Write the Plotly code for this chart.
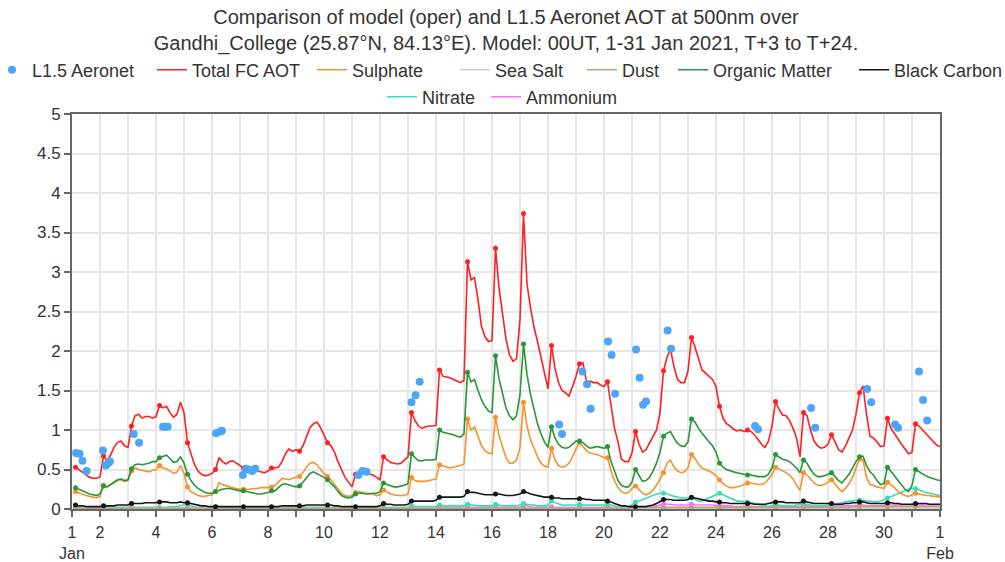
import pandas as pd
import plotly.graph_objects as go

TITLE = ("Comparison of model (oper) and L1.5 Aeronet AOT at 500nm over<br>"
         "Gandhi_College (25.87°N, 84.13°E). Model: 00UT, 1-31 Jan 2021, T+3 to T+24.")

# ---- model series: one row per forecast day, values at T+3 ... T+24 (3-hourly) ----
total_fc = [
    [0.53, 0.50, 0.46, 0.43, 0.40, 0.39, 0.39, 0.41],
    [0.67, 0.61, 0.68, 0.78, 0.84, 0.86, 0.80, 0.78],
    [1.05, 1.18, 1.20, 1.15, 1.17, 1.17, 1.15, 1.17],
    [1.31, 1.28, 1.30, 1.22, 1.16, 1.20, 1.35, 1.22],
    [0.84, 0.70, 0.56, 0.48, 0.44, 0.42, 0.43, 0.45],
    [0.50, 0.65, 0.60, 0.57, 0.60, 0.61, 0.58, 0.55],
    [0.52, 0.52, 0.51, 0.50, 0.48, 0.47, 0.46, 0.48],
    [0.52, 0.52, 0.53, 0.60, 0.70, 0.76, 0.73, 0.75],
    [0.73, 0.80, 0.92, 1.03, 1.08, 1.10, 1.03, 0.94],
    [0.84, 0.80, 0.72, 0.60, 0.50, 0.40, 0.34, 0.28],
    [0.44, 0.46, 0.46, 0.45, 0.44, 0.43, 0.40, 0.37],
    [0.66, 0.62, 0.59, 0.58, 0.57, 0.58, 0.62, 0.66],
    [1.22, 1.12, 1.05, 1.02, 1.04, 1.05, 1.05, 1.06],
    [1.76, 1.68, 1.67, 1.66, 1.64, 1.62, 1.60, 1.63],
    [3.13, 2.90, 2.93, 2.65, 2.31, 2.18, 2.12, 2.13],
    [3.30, 2.80, 2.45, 2.15, 1.95, 1.87, 1.90, 2.40],
    [3.74, 2.85, 2.55, 2.30, 2.12, 1.93, 1.70, 1.52],
    [2.07, 1.78, 1.60, 1.50, 1.47, 1.43, 1.55, 1.68],
    [1.84, 1.85, 1.61, 1.62, 1.60, 1.60, 1.57, 1.55],
    [1.61, 1.30, 1.02, 0.85, 0.63, 0.60, 0.60, 0.71],
    [0.98, 0.82, 0.72, 0.75, 0.84, 0.92, 1.00, 1.22],
    [1.75, 1.92, 2.02, 1.80, 1.64, 1.60, 1.60, 1.75],
    [2.17, 2.05, 1.90, 1.76, 1.72, 1.68, 1.64, 1.55],
    [1.30, 1.15, 1.08, 1.05, 1.01, 0.99, 1.00, 0.98],
    [1.00, 0.98, 0.94, 0.88, 0.82, 0.78, 0.86, 1.05],
    [1.36, 1.26, 1.19, 1.18, 1.12, 1.02, 0.90, 0.66],
    [1.22, 1.18, 1.00, 0.86, 0.80, 0.77, 0.78, 0.82],
    [0.94, 0.85, 0.75, 0.72, 0.80, 0.90, 1.00, 1.20],
    [1.47, 1.56, 1.20, 0.92, 0.90, 0.85, 0.79, 0.80],
    [1.15, 1.02, 0.95, 0.88, 0.82, 0.76, 0.70, 0.72],
    [1.08, 1.05, 1.00, 0.95, 0.90, 0.85, 0.81, 0.79],
]

sulphate = [
    [0.22, 0.20, 0.18, 0.17, 0.16, 0.15, 0.14, 0.16],
    [0.30, 0.28, 0.30, 0.33, 0.36, 0.37, 0.35, 0.36],
    [0.48, 0.52, 0.50, 0.49, 0.48, 0.47, 0.49, 0.50],
    [0.55, 0.52, 0.51, 0.48, 0.45, 0.47, 0.55, 0.45],
    [0.28, 0.22, 0.19, 0.17, 0.16, 0.16, 0.17, 0.18],
    [0.22, 0.33, 0.31, 0.29, 0.28, 0.27, 0.26, 0.25],
    [0.25, 0.25, 0.25, 0.26, 0.26, 0.27, 0.27, 0.27],
    [0.28, 0.30, 0.34, 0.39, 0.38, 0.37, 0.39, 0.40],
    [0.41, 0.46, 0.53, 0.58, 0.59, 0.56, 0.50, 0.45],
    [0.41, 0.37, 0.31, 0.25, 0.20, 0.17, 0.16, 0.17],
    [0.21, 0.22, 0.21, 0.20, 0.20, 0.19, 0.17, 0.18],
    [0.24, 0.21, 0.19, 0.18, 0.17, 0.17, 0.17, 0.19],
    [0.40, 0.36, 0.35, 0.35, 0.35, 0.36, 0.37, 0.38],
    [0.56, 0.54, 0.53, 0.52, 0.53, 0.54, 0.55, 0.57],
    [1.14, 1.00, 1.04, 0.92, 0.80, 0.74, 0.71, 0.70],
    [1.16, 0.93, 0.78, 0.65, 0.58, 0.58, 0.62, 0.78],
    [1.35, 1.05, 0.88, 0.76, 0.66, 0.58, 0.54, 0.53],
    [0.77, 0.62, 0.55, 0.53, 0.54, 0.58, 0.66, 0.76],
    [0.84, 0.79, 0.74, 0.71, 0.70, 0.69, 0.67, 0.65],
    [0.65, 0.48, 0.36, 0.27, 0.22, 0.20, 0.21, 0.26],
    [0.29, 0.25, 0.20, 0.18, 0.20, 0.24, 0.30, 0.38],
    [0.46, 0.58, 0.62, 0.53, 0.48, 0.46, 0.47, 0.52],
    [0.69, 0.64, 0.57, 0.52, 0.50, 0.48, 0.46, 0.42],
    [0.37, 0.32, 0.29, 0.27, 0.27, 0.28, 0.29, 0.31],
    [0.33, 0.33, 0.32, 0.31, 0.31, 0.33, 0.38, 0.44],
    [0.53, 0.51, 0.48, 0.46, 0.43, 0.38, 0.30, 0.24],
    [0.46, 0.43, 0.38, 0.33, 0.30, 0.30, 0.31, 0.34],
    [0.37, 0.32, 0.26, 0.22, 0.26, 0.32, 0.40, 0.52],
    [0.63, 0.62, 0.40, 0.31, 0.30, 0.28, 0.27, 0.26],
    [0.34, 0.31, 0.27, 0.22, 0.19, 0.17, 0.16, 0.18],
    [0.20, 0.19, 0.18, 0.17, 0.17, 0.16, 0.16, 0.15],
]

sea_salt = [
    [0.01, 0.01, 0.01, 0.01, 0.01, 0.01, 0.01, 0.01],
    [0.01, 0.01, 0.01, 0.01, 0.01, 0.01, 0.01, 0.01],
    [0.01, 0.01, 0.01, 0.01, 0.01, 0.01, 0.01, 0.01],
    [0.01, 0.01, 0.01, 0.01, 0.01, 0.01, 0.01, 0.01],
    [0.01, 0.01, 0.01, 0.01, 0.01, 0.01, 0.01, 0.01],
    [0.01, 0.01, 0.01, 0.01, 0.01, 0.01, 0.01, 0.01],
    [0.01, 0.01, 0.01, 0.01, 0.01, 0.01, 0.01, 0.01],
    [0.01, 0.01, 0.01, 0.01, 0.01, 0.01, 0.01, 0.01],
    [0.01, 0.01, 0.01, 0.01, 0.01, 0.01, 0.01, 0.01],
    [0.01, 0.01, 0.01, 0.01, 0.01, 0.01, 0.01, 0.01],
    [0.01, 0.01, 0.01, 0.01, 0.01, 0.01, 0.01, 0.01],
    [0.01, 0.01, 0.01, 0.01, 0.01, 0.01, 0.01, 0.01],
    [0.01, 0.01, 0.01, 0.01, 0.01, 0.01, 0.01, 0.01],
    [0.01, 0.01, 0.01, 0.01, 0.01, 0.01, 0.01, 0.01],
    [0.01, 0.01, 0.01, 0.01, 0.01, 0.01, 0.01, 0.01],
    [0.01, 0.01, 0.01, 0.01, 0.01, 0.01, 0.01, 0.01],
    [0.01, 0.01, 0.01, 0.01, 0.01, 0.01, 0.01, 0.01],
    [0.01, 0.01, 0.01, 0.01, 0.01, 0.01, 0.01, 0.01],
    [0.01, 0.01, 0.01, 0.01, 0.01, 0.01, 0.01, 0.01],
    [0.01, 0.01, 0.01, 0.01, 0.01, 0.01, 0.01, 0.01],
    [0.01, 0.01, 0.01, 0.01, 0.01, 0.01, 0.01, 0.01],
    [0.01, 0.01, 0.01, 0.01, 0.01, 0.01, 0.01, 0.01],
    [0.01, 0.01, 0.01, 0.01, 0.01, 0.01, 0.01, 0.01],
    [0.01, 0.01, 0.01, 0.01, 0.01, 0.01, 0.01, 0.01],
    [0.01, 0.01, 0.01, 0.01, 0.01, 0.01, 0.01, 0.01],
    [0.01, 0.01, 0.01, 0.01, 0.01, 0.01, 0.01, 0.01],
    [0.01, 0.01, 0.01, 0.01, 0.01, 0.01, 0.01, 0.01],
    [0.01, 0.01, 0.01, 0.01, 0.01, 0.01, 0.01, 0.01],
    [0.01, 0.01, 0.01, 0.01, 0.01, 0.01, 0.01, 0.01],
    [0.01, 0.01, 0.01, 0.01, 0.01, 0.01, 0.01, 0.01],
    [0.01, 0.01, 0.01, 0.01, 0.01, 0.01, 0.01, 0.01],
]

dust = [
    [0.01, 0.01, 0.01, 0.01, 0.01, 0.01, 0.01, 0.01],
    [0.01, 0.01, 0.01, 0.01, 0.01, 0.01, 0.01, 0.01],
    [0.01, 0.01, 0.01, 0.01, 0.01, 0.01, 0.01, 0.01],
    [0.01, 0.01, 0.01, 0.01, 0.01, 0.01, 0.01, 0.01],
    [0.01, 0.01, 0.01, 0.01, 0.01, 0.01, 0.01, 0.01],
    [0.01, 0.01, 0.01, 0.01, 0.01, 0.01, 0.01, 0.01],
    [0.01, 0.01, 0.01, 0.01, 0.01, 0.01, 0.01, 0.01],
    [0.01, 0.01, 0.01, 0.01, 0.01, 0.01, 0.01, 0.01],
    [0.01, 0.01, 0.01, 0.01, 0.01, 0.01, 0.01, 0.01],
    [0.01, 0.01, 0.01, 0.01, 0.01, 0.01, 0.01, 0.01],
    [0.01, 0.01, 0.01, 0.01, 0.01, 0.01, 0.01, 0.01],
    [0.01, 0.01, 0.01, 0.01, 0.01, 0.01, 0.01, 0.01],
    [0.01, 0.01, 0.01, 0.01, 0.01, 0.01, 0.01, 0.01],
    [0.01, 0.01, 0.01, 0.01, 0.01, 0.01, 0.01, 0.01],
    [0.01, 0.01, 0.01, 0.01, 0.01, 0.01, 0.01, 0.01],
    [0.01, 0.01, 0.01, 0.01, 0.01, 0.01, 0.01, 0.01],
    [0.01, 0.01, 0.01, 0.01, 0.01, 0.01, 0.01, 0.01],
    [0.01, 0.01, 0.01, 0.01, 0.01, 0.01, 0.01, 0.01],
    [0.01, 0.01, 0.01, 0.01, 0.01, 0.01, 0.01, 0.01],
    [0.01, 0.01, 0.01, 0.01, 0.01, 0.01, 0.01, 0.02],
    [0.02, 0.02, 0.02, 0.02, 0.02, 0.02, 0.02, 0.02],
    [0.02, 0.02, 0.02, 0.02, 0.02, 0.02, 0.02, 0.02],
    [0.02, 0.02, 0.02, 0.02, 0.02, 0.02, 0.02, 0.02],
    [0.02, 0.02, 0.02, 0.02, 0.02, 0.02, 0.02, 0.02],
    [0.02, 0.02, 0.02, 0.02, 0.02, 0.02, 0.02, 0.02],
    [0.02, 0.02, 0.02, 0.02, 0.02, 0.02, 0.02, 0.02],
    [0.02, 0.02, 0.02, 0.02, 0.02, 0.02, 0.02, 0.02],
    [0.02, 0.02, 0.02, 0.02, 0.02, 0.02, 0.03, 0.03],
    [0.03, 0.03, 0.03, 0.03, 0.03, 0.03, 0.03, 0.03],
    [0.03, 0.03, 0.03, 0.03, 0.03, 0.03, 0.03, 0.03],
    [0.03, 0.03, 0.03, 0.03, 0.03, 0.03, 0.03, 0.03],
]

organic_matter = [
    [0.27, 0.25, 0.22, 0.20, 0.19, 0.18, 0.17, 0.19],
    [0.29, 0.28, 0.31, 0.34, 0.37, 0.38, 0.36, 0.37],
    [0.51, 0.56, 0.57, 0.56, 0.57, 0.58, 0.60, 0.60],
    [0.65, 0.67, 0.68, 0.64, 0.59, 0.60, 0.66, 0.58],
    [0.44, 0.36, 0.30, 0.26, 0.23, 0.21, 0.20, 0.20],
    [0.22, 0.24, 0.25, 0.26, 0.26, 0.25, 0.24, 0.23],
    [0.23, 0.22, 0.21, 0.20, 0.19, 0.19, 0.20, 0.21],
    [0.23, 0.23, 0.27, 0.31, 0.32, 0.30, 0.29, 0.28],
    [0.29, 0.34, 0.40, 0.45, 0.47, 0.45, 0.42, 0.40],
    [0.37, 0.33, 0.28, 0.22, 0.17, 0.15, 0.14, 0.15],
    [0.19, 0.20, 0.20, 0.19, 0.19, 0.20, 0.20, 0.22],
    [0.33, 0.31, 0.29, 0.28, 0.28, 0.29, 0.30, 0.32],
    [0.70, 0.65, 0.61, 0.61, 0.62, 0.62, 0.62, 0.63],
    [1.00, 0.97, 0.96, 0.95, 0.94, 0.92, 0.91, 0.95],
    [1.73, 1.61, 1.64, 1.50, 1.38, 1.30, 1.24, 1.22],
    [1.94, 1.65, 1.45, 1.28, 1.18, 1.13, 1.18, 1.45],
    [2.09, 1.70, 1.45, 1.25, 1.08, 0.95, 0.85, 0.78],
    [1.04, 0.90, 0.82, 0.78, 0.77, 0.78, 0.82, 0.86],
    [0.86, 0.84, 0.80, 0.77, 0.78, 0.79, 0.78, 0.77],
    [0.79, 0.60, 0.48, 0.36, 0.30, 0.28, 0.28, 0.34],
    [0.50, 0.42, 0.35, 0.36, 0.40, 0.48, 0.58, 0.72],
    [0.92, 0.96, 0.98, 0.90, 0.83, 0.80, 0.79, 0.85],
    [1.14, 1.10, 1.02, 0.96, 0.90, 0.85, 0.80, 0.72],
    [0.58, 0.53, 0.50, 0.48, 0.47, 0.46, 0.45, 0.44],
    [0.43, 0.43, 0.42, 0.41, 0.41, 0.41, 0.44, 0.52],
    [0.69, 0.66, 0.63, 0.62, 0.60, 0.56, 0.52, 0.46],
    [0.62, 0.58, 0.50, 0.44, 0.41, 0.41, 0.42, 0.44],
    [0.46, 0.41, 0.36, 0.33, 0.38, 0.44, 0.52, 0.60],
    [0.66, 0.67, 0.55, 0.47, 0.43, 0.36, 0.31, 0.32],
    [0.53, 0.48, 0.42, 0.36, 0.30, 0.25, 0.22, 0.30],
    [0.50, 0.47, 0.44, 0.42, 0.40, 0.38, 0.37, 0.36],
]

black_carbon = [
    [0.05, 0.04, 0.04, 0.03, 0.03, 0.03, 0.03, 0.03],
    [0.04, 0.04, 0.04, 0.04, 0.05, 0.05, 0.05, 0.05],
    [0.07, 0.07, 0.07, 0.07, 0.08, 0.08, 0.08, 0.08],
    [0.09, 0.09, 0.09, 0.08, 0.08, 0.08, 0.09, 0.08],
    [0.08, 0.07, 0.06, 0.05, 0.04, 0.04, 0.03, 0.03],
    [0.03, 0.03, 0.03, 0.03, 0.03, 0.03, 0.03, 0.03],
    [0.03, 0.03, 0.03, 0.03, 0.03, 0.03, 0.03, 0.03],
    [0.03, 0.03, 0.03, 0.04, 0.04, 0.04, 0.04, 0.04],
    [0.04, 0.04, 0.05, 0.05, 0.05, 0.05, 0.05, 0.05],
    [0.05, 0.05, 0.04, 0.04, 0.03, 0.03, 0.03, 0.03],
    [0.03, 0.03, 0.03, 0.03, 0.03, 0.03, 0.03, 0.04],
    [0.07, 0.06, 0.06, 0.05, 0.05, 0.05, 0.05, 0.06],
    [0.10, 0.10, 0.10, 0.10, 0.10, 0.10, 0.10, 0.11],
    [0.15, 0.15, 0.15, 0.15, 0.15, 0.15, 0.15, 0.16],
    [0.22, 0.21, 0.21, 0.20, 0.19, 0.18, 0.18, 0.18],
    [0.19, 0.19, 0.18, 0.17, 0.17, 0.17, 0.18, 0.19],
    [0.22, 0.21, 0.19, 0.18, 0.17, 0.16, 0.15, 0.15],
    [0.15, 0.14, 0.14, 0.13, 0.13, 0.13, 0.13, 0.13],
    [0.13, 0.13, 0.12, 0.12, 0.11, 0.11, 0.11, 0.11],
    [0.10, 0.09, 0.07, 0.05, 0.04, 0.04, 0.03, 0.03],
    [0.03, 0.03, 0.03, 0.03, 0.04, 0.05, 0.07, 0.09],
    [0.12, 0.12, 0.12, 0.11, 0.11, 0.11, 0.11, 0.12],
    [0.15, 0.14, 0.13, 0.12, 0.11, 0.10, 0.10, 0.09],
    [0.09, 0.08, 0.08, 0.07, 0.07, 0.07, 0.07, 0.07],
    [0.07, 0.07, 0.06, 0.06, 0.06, 0.06, 0.07, 0.08],
    [0.09, 0.09, 0.09, 0.08, 0.08, 0.08, 0.08, 0.08],
    [0.10, 0.09, 0.08, 0.07, 0.07, 0.07, 0.07, 0.07],
    [0.07, 0.06, 0.06, 0.06, 0.07, 0.07, 0.08, 0.08],
    [0.09, 0.09, 0.08, 0.07, 0.07, 0.07, 0.07, 0.07],
    [0.08, 0.08, 0.07, 0.07, 0.06, 0.06, 0.06, 0.06],
    [0.07, 0.07, 0.07, 0.07, 0.06, 0.06, 0.06, 0.06],
]

nitrate = [
    [0.02, 0.02, 0.01, 0.01, 0.01, 0.01, 0.01, 0.01],
    [0.02, 0.02, 0.02, 0.02, 0.02, 0.02, 0.02, 0.02],
    [0.02, 0.02, 0.02, 0.02, 0.02, 0.02, 0.02, 0.02],
    [0.02, 0.02, 0.02, 0.03, 0.03, 0.03, 0.04, 0.05],
    [0.05, 0.04, 0.03, 0.02, 0.02, 0.02, 0.02, 0.02],
    [0.03, 0.03, 0.02, 0.02, 0.02, 0.02, 0.02, 0.02],
    [0.02, 0.02, 0.02, 0.02, 0.02, 0.02, 0.02, 0.02],
    [0.02, 0.02, 0.02, 0.02, 0.02, 0.02, 0.02, 0.02],
    [0.02, 0.02, 0.02, 0.02, 0.02, 0.02, 0.02, 0.02],
    [0.02, 0.02, 0.02, 0.02, 0.02, 0.02, 0.02, 0.02],
    [0.02, 0.02, 0.02, 0.02, 0.02, 0.02, 0.02, 0.02],
    [0.03, 0.02, 0.02, 0.02, 0.02, 0.02, 0.02, 0.02],
    [0.04, 0.03, 0.03, 0.03, 0.03, 0.03, 0.03, 0.03],
    [0.05, 0.04, 0.04, 0.04, 0.04, 0.04, 0.04, 0.04],
    [0.06, 0.05, 0.05, 0.04, 0.04, 0.04, 0.04, 0.04],
    [0.06, 0.05, 0.04, 0.04, 0.04, 0.04, 0.04, 0.05],
    [0.07, 0.06, 0.05, 0.05, 0.04, 0.04, 0.04, 0.05],
    [0.10, 0.08, 0.06, 0.05, 0.05, 0.05, 0.05, 0.05],
    [0.06, 0.05, 0.05, 0.05, 0.05, 0.05, 0.05, 0.05],
    [0.06, 0.05, 0.04, 0.03, 0.02, 0.02, 0.03, 0.05],
    [0.09, 0.10, 0.12, 0.14, 0.15, 0.17, 0.19, 0.20],
    [0.20, 0.19, 0.17, 0.16, 0.15, 0.14, 0.14, 0.14],
    [0.14, 0.12, 0.10, 0.10, 0.12, 0.14, 0.16, 0.18],
    [0.20, 0.18, 0.16, 0.14, 0.12, 0.10, 0.10, 0.09],
    [0.09, 0.08, 0.07, 0.06, 0.05, 0.04, 0.03, 0.04],
    [0.05, 0.05, 0.04, 0.04, 0.04, 0.04, 0.05, 0.06],
    [0.07, 0.06, 0.05, 0.04, 0.04, 0.04, 0.04, 0.05],
    [0.05, 0.06, 0.07, 0.08, 0.09, 0.10, 0.10, 0.11],
    [0.11, 0.11, 0.10, 0.10, 0.09, 0.09, 0.10, 0.12],
    [0.14, 0.16, 0.18, 0.20, 0.22, 0.24, 0.25, 0.26],
    [0.26, 0.24, 0.22, 0.21, 0.20, 0.19, 0.18, 0.17],
]

ammonium = [
    [0.01, 0.01, 0.01, 0.01, 0.01, 0.01, 0.01, 0.01],
    [0.01, 0.01, 0.01, 0.01, 0.01, 0.01, 0.01, 0.01],
    [0.01, 0.01, 0.01, 0.01, 0.01, 0.01, 0.01, 0.01],
    [0.01, 0.01, 0.01, 0.01, 0.01, 0.01, 0.01, 0.01],
    [0.01, 0.01, 0.01, 0.01, 0.01, 0.01, 0.01, 0.01],
    [0.01, 0.01, 0.01, 0.01, 0.01, 0.01, 0.01, 0.01],
    [0.01, 0.01, 0.01, 0.01, 0.01, 0.01, 0.01, 0.01],
    [0.01, 0.01, 0.01, 0.01, 0.01, 0.01, 0.01, 0.01],
    [0.01, 0.01, 0.01, 0.01, 0.01, 0.01, 0.01, 0.01],
    [0.01, 0.01, 0.01, 0.01, 0.01, 0.01, 0.01, 0.01],
    [0.01, 0.01, 0.01, 0.01, 0.01, 0.01, 0.01, 0.01],
    [0.01, 0.01, 0.01, 0.01, 0.01, 0.01, 0.01, 0.01],
    [0.02, 0.01, 0.01, 0.01, 0.01, 0.01, 0.01, 0.01],
    [0.02, 0.02, 0.02, 0.02, 0.02, 0.02, 0.02, 0.02],
    [0.03, 0.02, 0.02, 0.02, 0.02, 0.02, 0.02, 0.02],
    [0.03, 0.02, 0.02, 0.02, 0.02, 0.02, 0.02, 0.02],
    [0.05, 0.04, 0.03, 0.02, 0.02, 0.02, 0.02, 0.02],
    [0.03, 0.02, 0.02, 0.02, 0.02, 0.02, 0.02, 0.02],
    [0.02, 0.02, 0.02, 0.02, 0.02, 0.02, 0.02, 0.02],
    [0.02, 0.02, 0.02, 0.01, 0.01, 0.01, 0.02, 0.02],
    [0.02, 0.02, 0.03, 0.03, 0.03, 0.04, 0.04, 0.05],
    [0.06, 0.06, 0.06, 0.05, 0.05, 0.05, 0.05, 0.05],
    [0.06, 0.05, 0.05, 0.05, 0.05, 0.05, 0.05, 0.04],
    [0.04, 0.04, 0.04, 0.04, 0.03, 0.03, 0.03, 0.03],
    [0.03, 0.03, 0.03, 0.03, 0.03, 0.03, 0.03, 0.03],
    [0.04, 0.04, 0.03, 0.03, 0.03, 0.03, 0.03, 0.03],
    [0.04, 0.04, 0.03, 0.03, 0.03, 0.03, 0.03, 0.04],
    [0.04, 0.04, 0.04, 0.04, 0.04, 0.04, 0.04, 0.04],
    [0.05, 0.05, 0.04, 0.04, 0.04, 0.04, 0.04, 0.04],
    [0.05, 0.05, 0.05, 0.05, 0.05, 0.05, 0.05, 0.05],
    [0.06, 0.05, 0.05, 0.05, 0.05, 0.05, 0.05, 0.05],
]

# ---- L1.5 Aeronet observations ----
aeronet_times = [
    "2021-01-01 03:30", "2021-01-01 06:30", "2021-01-01 09:00", "2021-01-01 12:30",
    "2021-01-02 02:30", "2021-01-02 05:00", "2021-01-02 07:00", "2021-01-02 08:30",
    "2021-01-03 05:00", "2021-01-03 09:30",
    "2021-01-04 06:00", "2021-01-04 08:00", "2021-01-04 10:00",
    "2021-01-06 03:30", "2021-01-06 07:00", "2021-01-06 08:30",
    "2021-01-07 02:30", "2021-01-07 05:00", "2021-01-07 07:30", "2021-01-07 10:30", "2021-01-07 13:00",
    "2021-01-11 05:30", "2021-01-11 09:00", "2021-01-11 12:30",
    "2021-01-13 03:00", "2021-01-13 06:30", "2021-01-13 10:00",
    "2021-01-18 09:30", "2021-01-18 12:00",
    "2021-01-19 05:30", "2021-01-19 09:30", "2021-01-19 12:30",
    "2021-01-20 03:30", "2021-01-20 06:30", "2021-01-20 09:30",
    "2021-01-21 03:30", "2021-01-21 06:30", "2021-01-21 09:30", "2021-01-21 12:00",
    "2021-01-22 06:30", "2021-01-22 09:30",
    "2021-01-25 09:30", "2021-01-25 12:00",
    "2021-01-27 09:30", "2021-01-27 13:00",
    "2021-01-29 09:30", "2021-01-29 13:00",
    "2021-01-30 09:30", "2021-01-30 12:00",
    "2021-01-31 06:00", "2021-01-31 09:30", "2021-01-31 13:00",
]
aeronet_aot = [
    0.71, 0.70, 0.61, 0.48,
    0.74, 0.55, 0.58, 0.60,
    0.95, 0.84,
    1.04, 1.04, 1.04,
    0.96, 0.98, 0.99,
    0.43, 0.51, 0.50, 0.48, 0.51,
    0.43, 0.48, 0.47,
    1.35, 1.44, 1.61,
    1.07, 0.95,
    1.74, 1.58, 1.27,
    2.12, 1.95, 1.46,
    2.02, 1.66, 1.32, 1.36,
    2.26, 2.03,
    1.05, 1.01,
    1.28, 1.03,
    1.52, 1.35,
    1.07, 1.03,
    1.74, 1.38, 1.12,
]

# ---- axis ticks ----
tick_dates = ["2021-01-%02d" % d for d in range(1, 32)] + ["2021-02-01"]
tick_labels = ["1<br>Jan", "2", "", "4", "", "6", "", "8", "", "10", "", "12", "", "14", "",
               "16", "", "18", "", "20", "", "22", "", "24", "", "26", "", "28", "", "30", "",
               "1<br>Feb"]
y_ticks = [0, 0.5, 1, 1.5, 2, 2.5, 3, 3.5, 4, 4.5, 5]
y_labels = ["0", "0.5", "1", "1.5", "2", "2.5", "3", "3.5", "4", "4.5", "5"]

# ---- layout geometry (pixels) ----
W, H = 1005, 562
ML, MR, MT, MB = 72, 65, 114, 53
PW, PH = W - ML - MR, H - MT - MB
FONT = "Liberation Sans, Arial, sans-serif"

# legend entries: name -> (text start x px, row centre y px)
legend_pos = {
    "L1.5 Aeronet": (32, 70),
    "Total FC AOT": (192, 70),
    "Sulphate": (352, 70),
    "Sea Salt": (495, 70),
    "Dust": (622, 70),
    "Organic Matter": (713, 70),
    "Black Carbon": (894, 70),
    "Nitrate": (422, 97),
    "Ammonium": (526, 97),
}
legend_ids = {name: ("legend" if i == 0 else "legend%d" % (i + 1))
              for i, name in enumerate(legend_pos)}

model_times = pd.date_range("2021-01-01 03:00", periods=31 * 8, freq="3h")
day_start_times = model_times[::8]

series = [
    ("Ammonium", ammonium, "#ff6ef5"),
    ("Nitrate", nitrate, "#3ddbb8"),
    ("Sea Salt", sea_salt, "#cfcfcf"),
    ("Dust", dust, "#b9a47c"),
    ("Black Carbon", black_carbon, "#151515"),
    ("Sulphate", sulphate, "#f5922b"),
    ("Organic Matter", organic_matter, "#279638"),
    ("Total FC AOT", total_fc, "#ff1f1f"),
]

fig = go.Figure()
for name, rows, colour in series:
    vals = [v for row in rows for v in row]
    fig.add_trace(go.Scatter(
        x=model_times, y=vals, mode="lines", name=name,
        line=dict(color=colour, width=1.6), legend=legend_ids[name],
        legendgroup=name,
    ))
    fig.add_trace(go.Scatter(
        x=day_start_times, y=vals[::8], mode="markers", name=name,
        marker=dict(color=colour, size=5, symbol="circle"),
        showlegend=False, legendgroup=name, hoverinfo="skip",
    ))

fig.add_trace(go.Scatter(
    x=pd.to_datetime(aeronet_times), y=aeronet_aot, mode="markers",
    name="L1.5 Aeronet", marker=dict(color="#4da5f7", size=8),
    legend=legend_ids["L1.5 Aeronet"],
))

legend_layout = {}
for name, (tx, ty) in legend_pos.items():
    legend_layout[legend_ids[name]] = dict(
        orientation="h", xref="paper", yref="paper",
        x=(tx - 40 - ML) / PW, xanchor="left",
        y=(H - MB - ty) / PH, yanchor="middle",
        font=dict(family=FONT, size=18, color="#333333"),
        bgcolor="rgba(0,0,0,0)", borderwidth=0,
    )

fig.update_layout(
    width=W, height=H,
    paper_bgcolor="white", plot_bgcolor="white",
    font=dict(family=FONT, size=17, color="#333333"),
    margin=dict(l=ML, r=MR, t=MT, b=MB, autoexpand=False),
    title=dict(text=TITLE, x=0.5, xanchor="center", xref="paper",
               y=1 - 24 / H, yref="container", yanchor="top",
               font=dict(family=FONT, size=20, color="#333333")),
    showlegend=True,
    **legend_layout,
)
fig.update_xaxes(
    range=["2021-01-01", "2021-02-01"], tickmode="array",
    tickvals=tick_dates, ticktext=tick_labels,
    showgrid=True, gridcolor="#e6e6e6", gridwidth=1.5,
    showline=True, linecolor="#666666", linewidth=2, mirror=True,
    ticks="outside", ticklen=6, tickcolor="#666666", tickwidth=1.5,
    ticklabelstandoff=2,
    tickfont=dict(family=FONT, size=16, color="#333333"),
    zeroline=False,
)
fig.update_yaxes(
    range=[0, 5], tickmode="array", tickvals=y_ticks, ticktext=y_labels,
    showgrid=True, gridcolor="#e6e6e6", gridwidth=1.5,
    showline=True, linecolor="#666666", linewidth=2, mirror=True,
    ticks="outside", ticklen=6, tickcolor="#666666", tickwidth=1.5,
    ticklabelstandoff=0,
    tickfont=dict(family=FONT, size=17, color="#333333"),
    zeroline=False,
)

# remove the browser's default 8px page margin so the figure sits at the page origin
fig.write_html("out.html", config={"displayModeBar": False},
               post_script="document.body.style.margin='0';")
